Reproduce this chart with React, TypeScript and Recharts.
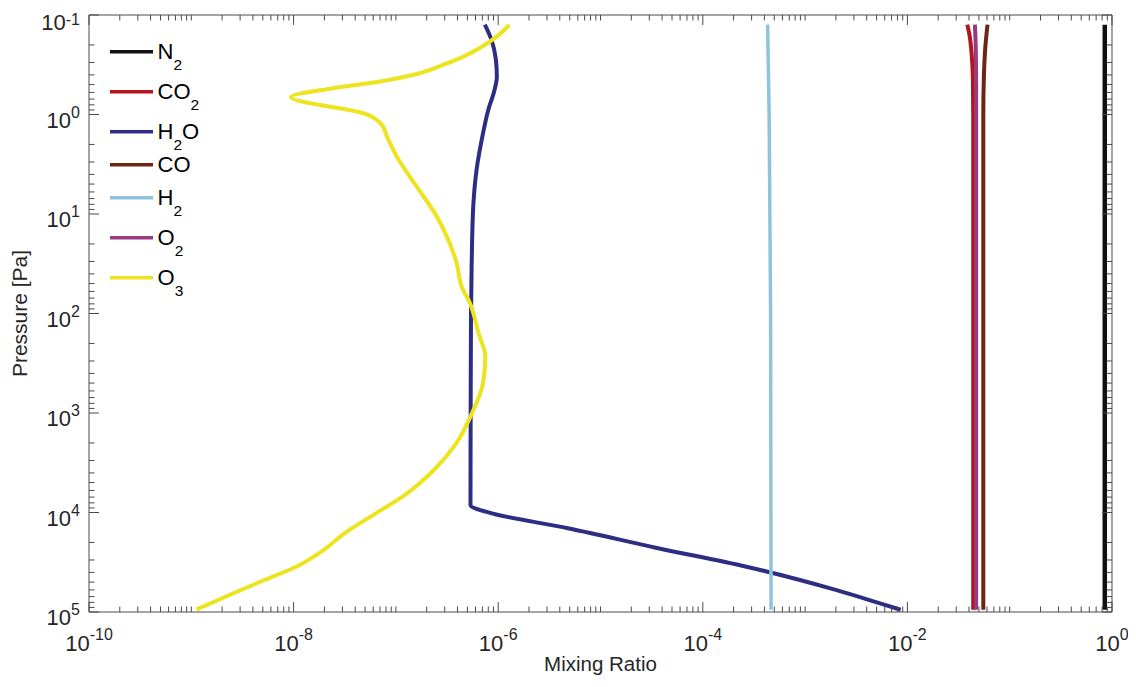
import React from 'react';
import { LineChart, Line, XAxis, YAxis, Legend, ReferenceLine, Label } from 'recharts';

// ---------- data (mixing ratio x, pressure p in Pa) ----------
const N2 = [
  { x: 0.85, p: 0.125 },
  { x: 0.85, p: 9.5e4 },
];
const CO2 = [
  { x: 0.0385, p: 0.125 },
  { x: 0.0405, p: 0.16 },
  { x: 0.0425, p: 0.25 },
  { x: 0.0437, p: 0.45 },
  { x: 0.044, p: 1 },
  { x: 0.044, p: 9.5e4 },
];
const H2O = [
  { x: 7.4e-7, p: 0.125 },
  { x: 8.6e-7, p: 0.178 },
  { x: 9.5e-7, p: 0.283 },
  { x: 9.7e-7, p: 0.417 },
  { x: 9.2e-7, p: 0.567 },
  { x: 8.0e-7, p: 0.9 },
  { x: 6.9e-7, p: 1.8 },
  { x: 6.2e-7, p: 3.37 },
  { x: 5.7e-7, p: 8.5 },
  { x: 5.5e-7, p: 34 },
  { x: 5.42e-7, p: 108 },
  { x: 5.38e-7, p: 1000 },
  { x: 5.36e-7, p: 8400 },
  { x: 8.7e-7, p: 1.02e4 },
  { x: 4.8e-6, p: 1.44e4 },
  { x: 3.56e-5, p: 2.27e4 },
  { x: 2.67e-4, p: 3.51e4 },
  { x: 1.99e-3, p: 6.0e4 },
  { x: 5.4e-3, p: 8.19e4 },
  { x: 8.6e-3, p: 9.5e4 },
];
const CO = [
  { x: 0.0607, p: 0.125 },
  { x: 0.058, p: 0.2 },
  { x: 0.056, p: 0.4 },
  { x: 0.0552, p: 1 },
  { x: 0.0552, p: 9.5e4 },
];
const H2 = [
  { x: 4.3e-4, p: 0.125 },
  { x: 4.45e-4, p: 1 },
  { x: 4.6e-4, p: 100 },
  { x: 4.65e-4, p: 9.5e4 },
];
const O2 = [
  { x: 0.0457, p: 0.125 },
  { x: 0.0465, p: 0.2 },
  { x: 0.047, p: 0.5 },
  { x: 0.047, p: 9.5e4 },
];
const O3 = [
  { x: 1.285e-6, p: 0.126 },
  { x: 9.66e-7, p: 0.165 },
  { x: 4.56e-7, p: 0.262 },
  { x: 2.9e-7, p: 0.318 },
  { x: 1.6e-7, p: 0.392 },
  { x: 7.53e-8, p: 0.461 },
  { x: 2.44e-8, p: 0.545 },
  { x: 9.43e-9, p: 0.667 },
  { x: 5.19e-8, p: 0.995 },
  { x: 7.0e-8, p: 1.21 },
  { x: 8.44e-8, p: 1.8 },
  { x: 1.02e-7, p: 2.65 },
  { x: 1.6e-7, p: 5.32 },
  { x: 2.51e-7, p: 10.6 },
  { x: 3.25e-7, p: 18.2 },
  { x: 3.93e-7, p: 31.3 },
  { x: 4.4e-7, p: 53.8 },
  { x: 5.3e-7, p: 78.9 },
  { x: 6.43e-7, p: 158 },
  { x: 7.48e-7, p: 272 },
  { x: 7.1e-7, p: 503 },
  { x: 5.53e-7, p: 1008 },
  { x: 3.89e-7, p: 2017 },
  { x: 2.35e-7, p: 3741 },
  { x: 1.16e-7, p: 6935 },
  { x: 6.37e-8, p: 1.02e4 },
  { x: 3.15e-8, p: 1.62e4 },
  { x: 1.9e-8, p: 2.44e4 },
  { x: 1.1e-8, p: 3.45e4 },
  { x: 4.91e-9, p: 4.88e4 },
  { x: 2.58e-9, p: 6.48e4 },
  { x: 1.13e-9, p: 9.4e4 },
];

const SERIES = [
  { name: 'N2', data: N2, color: '#111111', width: 4.5 },
  { name: 'CO2', data: CO2, color: '#b3141d', width: 4 },
  { name: 'H2O', data: H2O, color: '#2d2d83', width: 4 },
  { name: 'CO', data: CO, color: '#6d2616', width: 4 },
  { name: 'H2', data: H2, color: '#8fc3dd', width: 3.5 },
  { name: 'O2', data: O2, color: '#983a80', width: 4 },
  { name: 'O3', data: O3, color: '#ece41e', width: 4 },
];

// tick decades
const X_DECADES = [-10, -9, -8, -7, -6, -5, -4, -3, -2, -1, 0];
const X_LABEL_EXPS = [-10, -8, -6, -4, -2, 0];
const Y_DECADES = [-1, 0, 1, 2, 3, 4, 5];
const Y_LABEL_EXPS = [-1, 0, 1, 2, 3, 4, 5];
const MANTISSAS = [1, 2, 3, 4, 5, 6, 7, 8, 9];

const buildTicks = (decades: number[]) => {
  const out: number[] = [];
  decades.forEach((d, i) => {
    if (i === decades.length - 1) {
      out.push(Math.pow(10, d));
    } else {
      MANTISSAS.forEach((m) => out.push(m * Math.pow(10, d)));
    }
  });
  return out;
};
const X_TICKS = buildTicks(X_DECADES);
const Y_TICKS = buildTicks(Y_DECADES);

// ---------- layout ----------
const W = 1128;
const H = 672;
const MARGIN = { top: 7, right: 24, bottom: 0, left: 0 };
const Y_AXIS_W = 81;
const X_AXIS_H = 68;
const PLOT_TOP = MARGIN.top;
const PLOT_RIGHT = W - MARGIN.right;
const PLOT_BOTTOM = H - MARGIN.bottom - X_AXIS_H;
const PLOT_LEFT = MARGIN.left + Y_AXIS_W;
const FONT = '"Liberation Sans", Arial, Helvetica, sans-serif';
const AXIS_COLOR = '#4a4a4a';
const TEXT_COLOR = '#262626';
const MAJOR_LEN = 10;
const MINOR_LEN = 5.5;
const BASE_FS = 22;
const EXP_FS = 16;

const expInfo = (v: number) => {
  const e = Math.log10(v);
  const r = Math.round(e);
  return { isDecade: Math.abs(e - r) < 1e-6, exp: r };
};

const XTick = (props: any) => {
  const { x, y, payload } = props;
  const { isDecade, exp } = expInfo(payload.value);
  const labeled = isDecade && X_LABEL_EXPS.includes(exp);
  const len = labeled ? MAJOR_LEN : MINOR_LEN;
  return (
    <g>
      <line x1={x} x2={x} y1={y} y2={y - len} stroke={AXIS_COLOR} strokeWidth={1} />
      <line x1={x} x2={x} y1={PLOT_TOP} y2={PLOT_TOP + len} stroke={AXIS_COLOR} strokeWidth={1} />
      {labeled && (
        <text x={x} y={y + 39} textAnchor="middle" fill={TEXT_COLOR} fontFamily={FONT}>
          <tspan fontSize={BASE_FS}>10</tspan>
          <tspan fontSize={EXP_FS} dy={-11}>{String(exp)}</tspan>
        </text>
      )}
    </g>
  );
};

const YTick = (props: any) => {
  const { x, y, payload } = props;
  const { isDecade, exp } = expInfo(payload.value);
  const labeled = isDecade && Y_LABEL_EXPS.includes(exp);
  const len = labeled ? MAJOR_LEN : MINOR_LEN;
  const baseY = Math.max(y + 13, PLOT_TOP + 15);
  const expY = Math.max(y + 3, PLOT_TOP + 10);
  return (
    <g>
      <line x1={x} x2={x + len} y1={y} y2={y} stroke={AXIS_COLOR} strokeWidth={1} />
      <line x1={PLOT_RIGHT} x2={PLOT_RIGHT - len} y1={y} y2={y} stroke={AXIS_COLOR} strokeWidth={1} />
      {labeled && (
        <text x={x - 9} y={baseY} textAnchor="end" fill={TEXT_COLOR} fontFamily={FONT}>
          <tspan fontSize={BASE_FS}>10</tspan>
          <tspan fontSize={EXP_FS} dy={expY - baseY}>{String(exp)}</tspan>
        </text>
      )}
    </g>
  );
};

const splitName = (name: string) => {
  const parts: { t: string; sub: boolean }[] = [];
  const re = /(\d+)|([^\d]+)/g;
  let m: RegExpExecArray | null;
  while ((m = re.exec(name))) {
    if (m[1]) parts.push({ t: m[1], sub: true });
    else parts.push({ t: m[2], sub: false });
  }
  return parts;
};

const LEG_FIRST_CENTER = 43.7;
const LEG_ROW_SUB = 40;
const LEG_ROW_PLAIN = 26;
const LEG_LINE_X1 = 102;
const LEG_LINE_X2 = 145;
const LEG_TEXT_X = 149.5;
const SERIES_ORDER = SERIES.map((s) => s.name);

const LegendContent = (props: any) => {
  const payload = [...(props.payload || [])].sort(
    (a: any, b: any) => SERIES_ORDER.indexOf(String(a.value)) - SERIES_ORDER.indexOf(String(b.value))
  );
  let center = LEG_FIRST_CENTER;
  let prevH = 0;
  const rows: React.ReactNode[] = [];
  payload.forEach((item: any, i: number) => {
    const name = String(item.value);
    const parts = splitName(name);
    const h = parts.some((p) => p.sub) ? LEG_ROW_SUB : LEG_ROW_PLAIN;
    if (i > 0) center += (prevH + h) / 2;
    prevH = h;
    let inSub = false;
    const spans = parts.map((p, k) => {
      let dy = 0;
      if (p.sub && !inSub) dy = 11;
      if (!p.sub && inSub) dy = -11;
      inSub = p.sub;
      return (
        <tspan key={k} dy={dy} fontSize={p.sub ? 15.5 : 22}>
          {p.t}
        </tspan>
      );
    });
    rows.push(
      <g key={name}>
        <line x1={LEG_LINE_X1} x2={LEG_LINE_X2} y1={center} y2={center} stroke={item.color} strokeWidth={3.5} />
        <text x={LEG_TEXT_X} y={center + 7} fill="#000" fontFamily={FONT}>
          {spans}
        </text>
      </g>
    );
  });
  return (
    <svg width={300} height={320} style={{ overflow: 'visible', display: 'block' }}>
      {rows}
    </svg>
  );
};

export default function App() {
  return (
    <div style={{ width: W, height: H, background: '#fff' }}>
      <LineChart width={W} height={H} margin={MARGIN} style={{ overflow: 'visible' }}>
        <XAxis
          type="number"
          dataKey="x"
          scale="log"
          domain={[1e-10, 1]}
          allowDataOverflow
          ticks={X_TICKS}
          interval={0}
          tickSize={0}
          tickMargin={0}
          tick={<XTick />}
          height={X_AXIS_H}
          axisLine={{ stroke: AXIS_COLOR, strokeWidth: 1 }}
          tickLine={false}
        >
          <Label
            content={() => (
              <text
                x={(PLOT_LEFT + PLOT_RIGHT) / 2}
                y={PLOT_BOTTOM + 59}
                textAnchor="middle"
                fontSize={20.5}
                fontFamily={FONT}
                fill={TEXT_COLOR}
              >
                Mixing Ratio
              </text>
            )}
          />
        </XAxis>
        <YAxis
          type="number"
          dataKey="p"
          scale="log"
          domain={[0.1, 1e5]}
          reversed
          allowDataOverflow
          ticks={Y_TICKS}
          interval={0}
          tickSize={0}
          tickMargin={0}
          tick={<YTick />}
          width={Y_AXIS_W}
          axisLine={{ stroke: AXIS_COLOR, strokeWidth: 1 }}
          tickLine={false}
        >
          <Label
            content={() => {
              const cy = (PLOT_TOP + PLOT_BOTTOM) / 2;
              const lx = 18.7;
              return (
                <text
                  x={lx}
                  y={cy}
                  transform={`rotate(-90 ${lx} ${cy})`}
                  textAnchor="middle"
                  fontSize={21}
                  fontFamily={FONT}
                  fill={TEXT_COLOR}
                >
                  Pressure [Pa]
                </text>
              );
            }}
          />
        </YAxis>
        <ReferenceLine y={0.1} stroke={AXIS_COLOR} strokeWidth={1} />
        <ReferenceLine x={1} stroke={AXIS_COLOR} strokeWidth={1} />
        {SERIES.map((s) => (
          <Line
            key={s.name}
            name={s.name}
            data={s.data}
            dataKey="p"
            type="monotoneY"
            stroke={s.color}
            strokeWidth={s.width}
            strokeLinejoin="round"
            dot={false}
            activeDot={false}
            isAnimationActive={false}
          />
        ))}
        <Legend
          layout="horizontal"
          verticalAlign="middle"
          align="center"
          content={<LegendContent />}
          wrapperStyle={{ position: 'absolute', left: 0, top: 0, width: 300, height: 320, pointerEvents: 'none' }}
        />
      </LineChart>
    </div>
  );
}
